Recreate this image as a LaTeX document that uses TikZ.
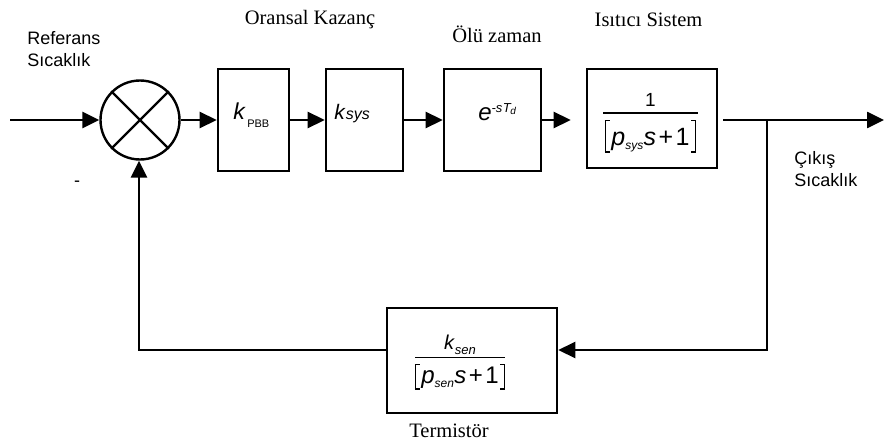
\documentclass[tikz,border=0pt]{standalone}
\usepackage{fontspec}
\setmainfont{Liberation Sans}
\newfontfamily\tnr{Liberation Serif}
\usetikzlibrary{arrows.meta,calc}
\newcommand\fs[1]{\fontsize{#1}{#1}\selectfont}
\newcommand\lbr[3]{\rule[-#1]{1.4pt}{#2}\kern-1.4pt\rule[-#1]{5pt}{1.4pt}\kern-5pt\rule[#3]{5pt}{1.4pt}}
\newcommand\rbr[3]{\rule[-#1]{5pt}{1.4pt}\kern-5pt\rule[#3]{5pt}{1.4pt}\kern-1.4pt\rule[-#1]{1.4pt}{#2}}
\newcommand\lowsub[3]{\raisebox{-#1}{\fs{#2}\itshape #3}}
\begin{document}
\begin{tikzpicture}[x=1pt,y=-1pt,
  line width=2.6pt,
  blk/.style={draw, line width=2.6pt, inner sep=0pt, minimum height=102pt},
  sl/.style={font=\fs{18}, align=left, inner sep=0pt},
  tl/.style={font=\tnr\fs{20.5}, inner sep=0pt},
  arr/.style={-{Triangle[length=17pt,width=16pt]}},
  txt/.style={inner sep=0pt, anchor=base west},
]
\useasboundingbox (0,0) rectangle (884,444);
% summing junction
\node[draw, circle, minimum size=79pt, inner sep=0pt, line width=2.4pt] (sum) at (140,120) {};
\draw[line width=2.4pt] (sum.45) -- (sum.225) (sum.135) -- (sum.315);
% blocks
\node[blk, minimum width=71pt] (b1) at (253.5,120) {};
\node[blk, minimum width=77pt] (b2) at (364.5,120) {};
\node[blk, minimum width=97pt] (b3) at (492.5,120) {};
\node[blk, minimum width=130pt, minimum height=99pt] (b4) at (652,118.5) {};
\node[blk, minimum width=170pt, minimum height=105pt] (b5) at (472,360.5) {};
% block contents
\node[txt, font=\fs{23}] (t1) at (232,119) {\textit{k}\kern1.5pt\raisebox{-8pt}{\fs{11}PBB}};
\node[txt, font=\fs{21}] (t2) at (333,119) {\textit{k}\kern0.3pt{\fs{16}\itshape sys}};
\node[txt, font=\fs{24}] (t3) at (477,121) {\textit{e}\raisebox{9pt}{\fs{13}\itshape -s\kern0.5pt T\kern-0.5pt\raisebox{-3pt}{\fs{10}d}}};
\node[inner sep=0pt, anchor=north] (t4) at (650.5,92) {\vbox{%
  \hbox to 95pt{\hss\fs{19}1\hss}\kern5.9pt\hrule height 1.4pt\kern6.2pt
  \hbox to 95pt{\hss\fs{25}\lbr{7pt}{33pt}{24.6pt}\kern1.5pt\textit{p}\lowsub{4pt}{12}{sys}\kern0.3pt\textit{s}\kern2.5pt+\kern2.5pt1\kern1.5pt\rbr{7pt}{33pt}{24.6pt}\hss}}};
\node[inner sep=0pt, anchor=north] (t5) at (460,334) {\vbox{%
  \hbox to 90pt{\hss\fs{20}\textit{k}\lowsub{5pt}{13}{sen}\hss}\kern2.0pt\hrule height 1.4pt\kern5.4pt
  \hbox to 90pt{\hss\fs{24}\lbr{6pt}{26pt}{18.6pt}\kern1.5pt\textit{p}\lowsub{4pt}{12}{sen}\kern0.3pt\textit{s}\kern2.5pt+\kern2.5pt1\kern1.5pt\rbr{6pt}{26pt}{18.6pt}\hss}}};
% labels
\node[sl, anchor=north west] (ref) at (26,30) {Referans\\[4pt]Sıcaklık};
\node[sl, anchor=north west] (cik) at (793,150) {Çıkış\\[4pt]Sıcaklık};
\node[sl] (minus) at (77,184) {-};
\node[tl, anchor=base] (okaz) at (310,25) {Oransal Kazanç};
\node[tl, anchor=base] (olu) at (497,43) {Ölü zaman};
\node[tl, anchor=base] (isi) at (648.5,27) {Isıtıcı Sistem};
\node[tl, anchor=base] (ter) at (449,437) {Termistör};
% connectors
\coordinate (in) at (10,120);
\coordinate (out) at (884,120);
\coordinate (br) at (767,120);
\coordinate (fbr) at (767,350);
\coordinate (fbl) at (139,350);
\draw[arr] (in) -- (sum.west);
\draw[arr] (sum.east) -- (b1.west);
\draw[arr] (b1.east) -- (b2.west);
\draw[arr] (b2.east) -- (b3.west);
\draw[arr, shorten >=15pt] (b3.east) -- (b3.east -| b4.west);
\draw[arr] ([xshift=5pt]b4.east |- br) -- (out);
\draw[arr] (br) -- (fbr) -- (fbr -| b5.east);
\draw[arr] (fbr -| b5.west) -- (fbl) -- (fbl |- sum.south);
\end{tikzpicture}
\end{document}
